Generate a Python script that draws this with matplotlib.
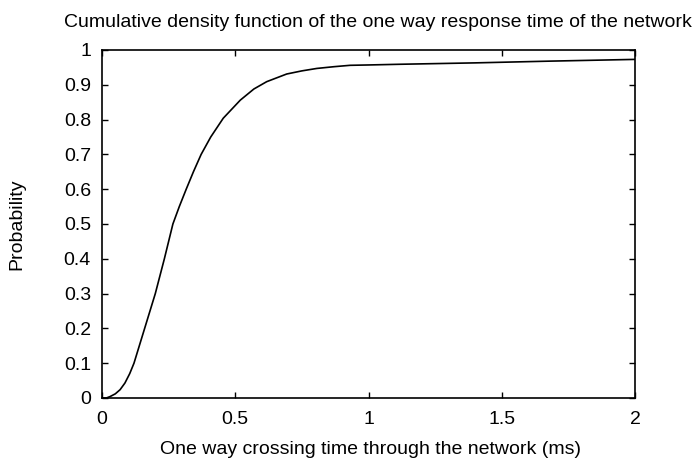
import matplotlib
matplotlib.use("Agg")
import matplotlib.pyplot as plt

plt.rcParams['font.family'] = ['Liberation Sans', 'DejaVu Sans']

# crossing time (ms) and cumulative probability
crossing_time = [0.0, 0.016, 0.03, 0.05, 0.068, 0.086, 0.104, 0.12, 0.14, 0.16,
                 0.18, 0.2, 0.217, 0.234, 0.25, 0.266, 0.29, 0.316, 0.343, 0.372,
                 0.408, 0.455, 0.519, 0.57, 0.618, 0.693, 0.75, 0.806, 0.87, 0.931,
                 1.0, 1.118, 1.4, 1.68, 2.0]
probability = [0.0, 0.0, 0.004, 0.012, 0.024, 0.043, 0.07, 0.1, 0.15, 0.2,
               0.25, 0.3, 0.35, 0.4, 0.45, 0.5, 0.55, 0.6, 0.65, 0.7,
               0.75, 0.804, 0.856, 0.888, 0.909, 0.931, 0.94, 0.947, 0.952, 0.956,
               0.957, 0.959, 0.963, 0.968, 0.973]

x_ticks = [0, 0.5, 1, 1.5, 2]
x_tick_labels = ['0', '0.5', '1', '1.5', '2']
y_ticks = [0, 0.1, 0.2, 0.3, 0.4, 0.5, 0.6, 0.7, 0.8, 0.9, 1]
y_tick_labels = ['0', '0.1', '0.2', '0.3', '0.4', '0.5', '0.6', '0.7', '0.8', '0.9', '1']

fig = plt.figure(figsize=(7, 4.62), dpi=100)
ax = fig.add_axes([102 / 700, 1 - 398 / 462, 533 / 700, 348 / 462])

ax.plot(crossing_time, probability, color='black', lw=1.2,
        solid_joinstyle='round', solid_capstyle='round')

ax.set_xlim(0, 2)
ax.set_ylim(0, 1)
ax.set_xticks(x_ticks)
ax.set_xticklabels(x_tick_labels)
ax.set_yticks(y_ticks)
ax.set_yticklabels(y_tick_labels)
ax.tick_params(direction='in', length=4.5, width=1, top=True, right=True,
               labelsize=14)
ax.tick_params(axis='x', pad=9)
ax.tick_params(axis='y', pad=8)
for s in ax.spines.values():
    s.set_linewidth(1.2)

fig.text(371 / 700, 1 - 449 / 462, 'One way crossing time through the network (ms)',
         ha='center', va='center', fontsize=14)
fig.text(17 / 700, 1 - 224 / 462, 'Probability', rotation=90,
         ha='center', va='center', fontsize=14)
fig.text(378 / 700, 1 - 27 / 462,
         'Cumulative density function of the one way response time of the network',
         ha='center', va='baseline', fontsize=14)

fig.savefig('out.png', dpi=100)
